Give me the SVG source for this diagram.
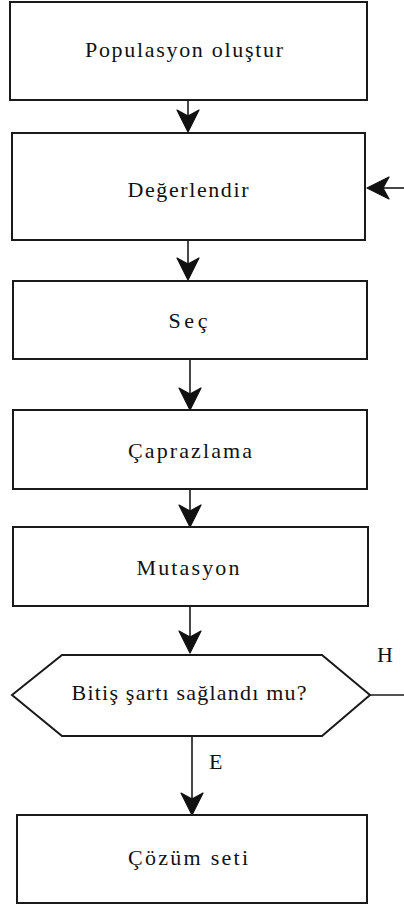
<svg xmlns="http://www.w3.org/2000/svg" width="404" height="908" viewBox="0 0 404 908">
  <style>
    .box { fill: #ffffff; stroke: #1a1a1a; stroke-width: 2; }
    .lbl { font-family: "Liberation Serif", "Times New Roman", serif; font-size: 22px; fill: #111111; text-anchor: middle; }
    .edge { fill: none; stroke: #1a1a1a; stroke-width: 1.6; }
    .tag { font-family: "Liberation Serif", "Times New Roman", serif; font-size: 22px; fill: #111111; }
  </style>
  <defs>
    <!-- notched arrowhead, tip at origin, pointing down -->
    <path id="headDown" d="M0,0 L-11,-22 L0,-16 L11,-22 Z" fill="#111111" stroke="#111111" stroke-width="1.2" stroke-linejoin="round"/>
  </defs>
  <rect width="404" height="908" fill="#ffffff"/>

  <g id="connectors">
    <line class="edge" x1="188" y1="100" x2="188" y2="122"/>
    <use href="#headDown" x="188" y="132"/>
    <line class="edge" x1="188" y1="240" x2="188" y2="270"/>
    <use href="#headDown" x="188" y="280"/>
    <line class="edge" x1="190" y1="359" x2="190" y2="400"/>
    <use href="#headDown" x="190" y="410"/>
    <line class="edge" x1="190" y1="489" x2="190" y2="517"/>
    <use href="#headDown" x="190" y="527"/>
    <line class="edge" x1="190" y1="606" x2="190" y2="642"/>
    <use href="#headDown" x="190" y="653"/>
    <line class="edge" x1="192" y1="736" x2="192" y2="805"/>
    <use href="#headDown" x="192" y="815"/>
    <!-- loop back from the decision to the evaluation step -->
    <line class="edge" x1="370" y1="695" x2="404" y2="695"/>
    <line class="edge" x1="378" y1="188" x2="404" y2="188"/>
    <use href="#headDown" transform="translate(367,188) rotate(90)"/>
    <text class="tag" x="377" y="662">H</text>
    <text class="tag" x="209" y="769">E</text>
  </g>

  <g id="n-populasyon">
    <rect class="box" x="10" y="2" width="357" height="98"/>
    <text class="lbl" x="184" y="57" textLength="198" lengthAdjust="spacing">Populasyon oluştur</text>
  </g>
  <g id="n-degerlendir">
    <rect class="box" x="12" y="133" width="353" height="107"/>
    <text class="lbl" x="188" y="197" textLength="121" lengthAdjust="spacing">Değerlendir</text>
  </g>
  <g id="n-sec">
    <rect class="box" x="13" y="281" width="354" height="78"/>
    <text class="lbl" x="188" y="328" textLength="39" lengthAdjust="spacing">Seç</text>
  </g>
  <g id="n-caprazlama">
    <rect class="box" x="13" y="410" width="354" height="79"/>
    <text class="lbl" x="190" y="458" textLength="124" lengthAdjust="spacing">Çaprazlama</text>
  </g>
  <g id="n-mutasyon">
    <rect class="box" x="13" y="527" width="355" height="79"/>
    <text class="lbl" x="188" y="575" textLength="103" lengthAdjust="spacing">Mutasyon</text>
  </g>
  <g id="n-bitis">
    <polygon class="box" points="12,695 62,655 322,655 370,695 322,736 62,736"/>
    <text class="lbl" x="189" y="700" textLength="235" lengthAdjust="spacing">Bitiş şartı sağlandı mu?</text>
  </g>
  <g id="n-cozum">
    <rect class="box" x="17" y="815" width="350" height="88"/>
    <text class="lbl" x="188" y="865" textLength="120" lengthAdjust="spacing">Çözüm seti</text>
  </g>
</svg>
